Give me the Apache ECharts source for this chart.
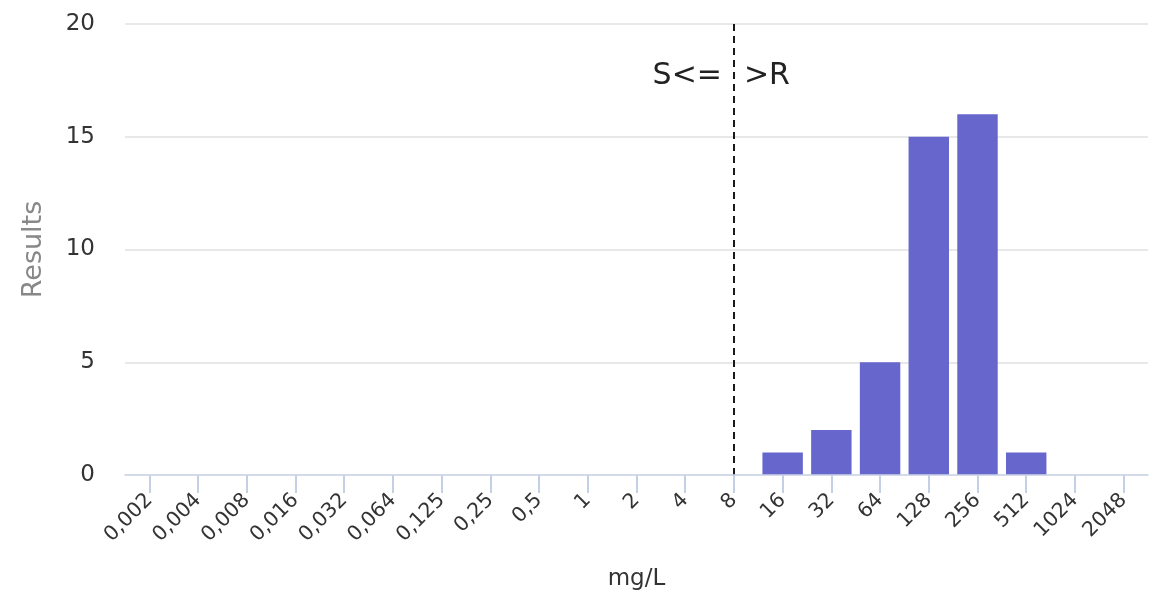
<!DOCTYPE html>
<html>
<head>
<meta charset="utf-8">
<script src="https://cdn.jsdelivr.net/npm/echarts@6/dist/echarts.min.js"></script>
<style>
html,body{margin:0;padding:0;background:#fff;}
#chart{width:1165px;height:605px;}
</style>
</head>
<body>
<div id="chart"></div>
<script>
const categories = ['0,002','0,004','0,008','0,016','0,032','0,064','0,125','0,25','0,5','1','2','4','8','16','32','64','128','256','512','1024','2048'];
const results = [0,0,0,0,0,0,0,0,0,0,0,0,0,1,2,5,15,16,1,0,0];
const breakpoint = '8';
const breakpointLabelLeft = 'S<=';
const breakpointLabelRight = '>R';
const breakpointLabelY = 17.7;
const yTicks = [0, 5, 10, 15, 20];

const font = 'DejaVu Sans';
const chart = echarts.init(document.getElementById('chart'));
chart.setOption({
  animation: false,
  textStyle: { fontFamily: font },
  grid: { left: 125, right: 17, top: 24, bottom: 130 },
  xAxis: {
    type: 'category',
    data: categories,
    boundaryGap: true,
    name: 'mg/L',
    nameLocation: 'middle',
    nameGap: 93,
    nameTextStyle: { fontSize: 23, color: '#333', fontFamily: font },
    axisLine: { show: true, onZero: false, lineStyle: { color: '#ccd6eb', width: 1.5 } },
    axisTick: { show: true, alignWithLabel: true, inside: false, length: 18, lineStyle: { color: '#c4d0e6', width: 2 } },
    axisLabel: { rotate: 45, fontSize: 20.5, color: '#333', margin: 22, interval: 0, fontFamily: font },
    splitLine: { show: false },
    z: 5
  },
  yAxis: {
    type: 'value',
    min: yTicks[0],
    max: yTicks[yTicks.length - 1],
    interval: 5,
    name: 'Results',
    nameLocation: 'middle',
    nameGap: 78,
    nameTextStyle: { fontSize: 27, color: '#888', fontFamily: font },
    axisLine: { show: false },
    axisTick: { show: false },
    axisLabel: { fontSize: 23, color: '#333', margin: 30, fontFamily: font },
    splitLine: { lineStyle: { color: '#e0e0e0', width: 1.5 } }
  },
  series: [{
    type: 'bar',
    data: results,
    barCategoryGap: '17%',
    itemStyle: { color: '#6666cc', borderWidth: 0 },
    markLine: {
      silent: true,
      symbol: ['none', 'none'],
      label: { show: false },
      lineStyle: { color: '#000', type: [7, 5], width: 1.8 },
      data: [{ xAxis: breakpoint }]
    },
    markPoint: {
      silent: true,
      symbol: 'circle',
      symbolSize: 0,
      data: [
        { coord: [breakpoint, breakpointLabelY], label: { show: true, formatter: breakpointLabelLeft, position: 'left', distance: 12, fontSize: 30, color: '#222', fontFamily: font } },
        { coord: [breakpoint, breakpointLabelY], label: { show: true, formatter: breakpointLabelRight, position: 'right', distance: 10, fontSize: 30, color: '#222', fontFamily: font } }
      ]
    }
  }]
});
</script>
</body>
</html>
